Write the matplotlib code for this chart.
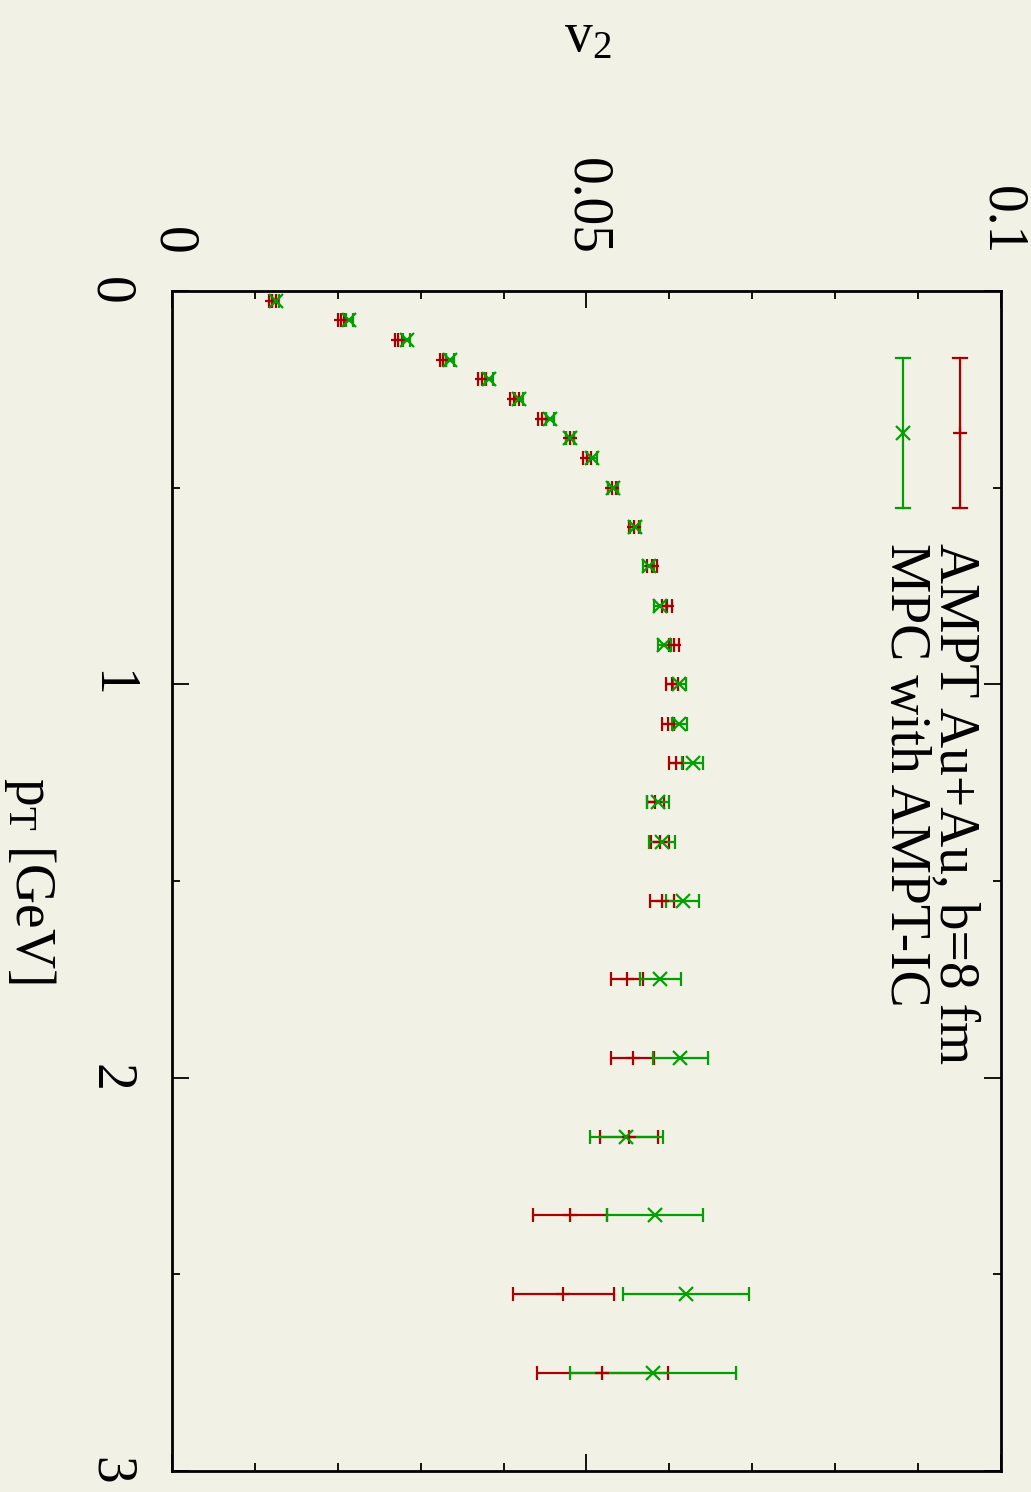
import numpy as np
import matplotlib.pyplot as plt
from matplotlib.ticker import MultipleLocator

plt.rcParams['font.family'] = ['Liberation Serif', 'DejaVu Serif']
plt.rcParams['mathtext.fontset'] = 'custom'
plt.rcParams['mathtext.rm'] = 'Liberation Serif'
plt.rcParams['mathtext.it'] = 'Liberation Serif:italic'

# pT bin centres [GeV]
pt = [0.025, 0.075, 0.125, 0.175, 0.225, 0.275, 0.325, 0.375, 0.425,
      0.5, 0.6, 0.7, 0.8, 0.9, 1.0, 1.1, 1.2, 1.3, 1.4,
      1.55, 1.75, 1.95, 2.15, 2.35, 2.55, 2.75]

# AMPT Au+Au, b=8 fm
v2_ampt = [0.0121, 0.0204, 0.0273, 0.0327, 0.0374, 0.0413, 0.0446, 0.0480, 0.0501,
           0.0531, 0.0557, 0.0579, 0.0597, 0.0606, 0.0603, 0.0598, 0.0608, 0.0583, 0.0589,
           0.0591, 0.0549, 0.0556, 0.0551, 0.0480, 0.0472, 0.0519]
err_ampt = [0.0004, 0.0004, 0.0004, 0.0004, 0.0005, 0.0005, 0.0005, 0.0005, 0.0005,
            0.0005, 0.0006, 0.0006, 0.0006, 0.0006, 0.0007, 0.0007, 0.0009, 0.0010, 0.0011,
            0.0014, 0.0019, 0.0026, 0.0035, 0.0045, 0.0061, 0.0079]

# MPC with AMPT initial conditions
v2_mpc = [0.0125, 0.0214, 0.0283, 0.0335, 0.0382, 0.0419, 0.0456, 0.0480, 0.0507,
          0.0532, 0.0559, 0.0575, 0.0589, 0.0594, 0.0612, 0.0612, 0.0628, 0.0586, 0.0591,
          0.0616, 0.0589, 0.0613, 0.0548, 0.0583, 0.0620, 0.0580]
err_mpc = [0.0004, 0.0004, 0.0004, 0.0005, 0.0005, 0.0005, 0.0005, 0.0005, 0.0006,
           0.0006, 0.0006, 0.0007, 0.0007, 0.0008, 0.0008, 0.0009, 0.0013, 0.0013, 0.0016,
           0.0020, 0.0025, 0.0033, 0.0044, 0.0058, 0.0076, 0.0100]

bg = '#f2f1e6'
red = '#aa0000'
green = '#00a000'
fs = 40

fig = plt.figure(figsize=(10.31, 14.92), dpi=100, facecolor=bg)
ax = fig.add_axes([0.1668, 0.0141, 0.8041, 0.7909])
ax.set_facecolor(bg)

# plot is turned on its side: v2 runs left->right, pT runs top->bottom
ax.errorbar(v2_ampt, pt, xerr=err_ampt, fmt='+', color=red, ms=10, mew=1.6,
            elinewidth=1.6, capsize=4.7, capthick=1.6)
ax.errorbar(v2_mpc, pt, xerr=err_mpc, fmt='x', color=green, ms=10, mew=1.6,
            elinewidth=1.6, capsize=4.7, capthick=1.6)

ax.set_xlim(0, 0.1)
ax.set_ylim(3, 0)
ax.xaxis.set_major_locator(MultipleLocator(0.05))
ax.xaxis.set_minor_locator(MultipleLocator(0.01))
ax.yaxis.set_major_locator(MultipleLocator(1))
ax.yaxis.set_minor_locator(MultipleLocator(0.5))
ax.set_xticks([0, 0.05, 0.1])
ax.set_xticklabels(['0', '0.05', '0.1'])
ax.set_yticks([0, 1, 2, 3])
ax.set_yticklabels(['0', '1', '2', '3'])
ax.tick_params(which='both', direction='in', top=True, bottom=True, left=True, right=True,
               labeltop=True, labelbottom=False, width=1.3, labelsize=fs)
ax.tick_params(which='major', length=12, pad=26)
ax.tick_params(which='minor', length=6)
for lab in ax.get_xticklabels():
    lab.set_rotation(270)
for lab in ax.get_yticklabels():
    lab.set_rotation(270)
    lab.set_va('center')
for sp in ax.spines.values():
    sp.set_linewidth(2)

# axis titles
fig.text(588 / 1031, 1 - 37 / 1492, r'v$_2$', fontsize=fs, ha='center', va='center')
fig.text(30 / 1031, 1 - 880 / 1492, r'p$_\mathregular{T}$ [GeV]', fontsize=fs,
         rotation=270, ha='center', va='center')

# legend, drawn by hand in the rotated frame
for xa, col, mk in [(0.9505, red, '+'), (0.8818, green, 'x')]:
    y0, y1, yc = 1 - 0.0568, 1 - 0.1839, 1 - 0.1203
    ax.plot([xa, xa], [y0, y1], color=col, lw=1.6, transform=ax.transAxes, clip_on=False)
    for yy in (y0, y1):
        ax.plot([xa - 0.0085, xa + 0.0085], [yy, yy], color=col, lw=1.6,
                transform=ax.transAxes, clip_on=False)
    ax.plot([xa], [yc], mk, color=col, ms=10, mew=1.6, transform=ax.transAxes)

fig.text(955 / 1031, 1 - 543 / 1492, 'AMPT Au+Au, b=8 fm', fontsize=fs, rotation=270,
         ha='center', va='top')
fig.text(905 / 1031, 1 - 543 / 1492, 'MPC with AMPT-IC', fontsize=fs, rotation=270,
         ha='center', va='top')

fig.savefig('out.png', dpi=100, facecolor=bg)
